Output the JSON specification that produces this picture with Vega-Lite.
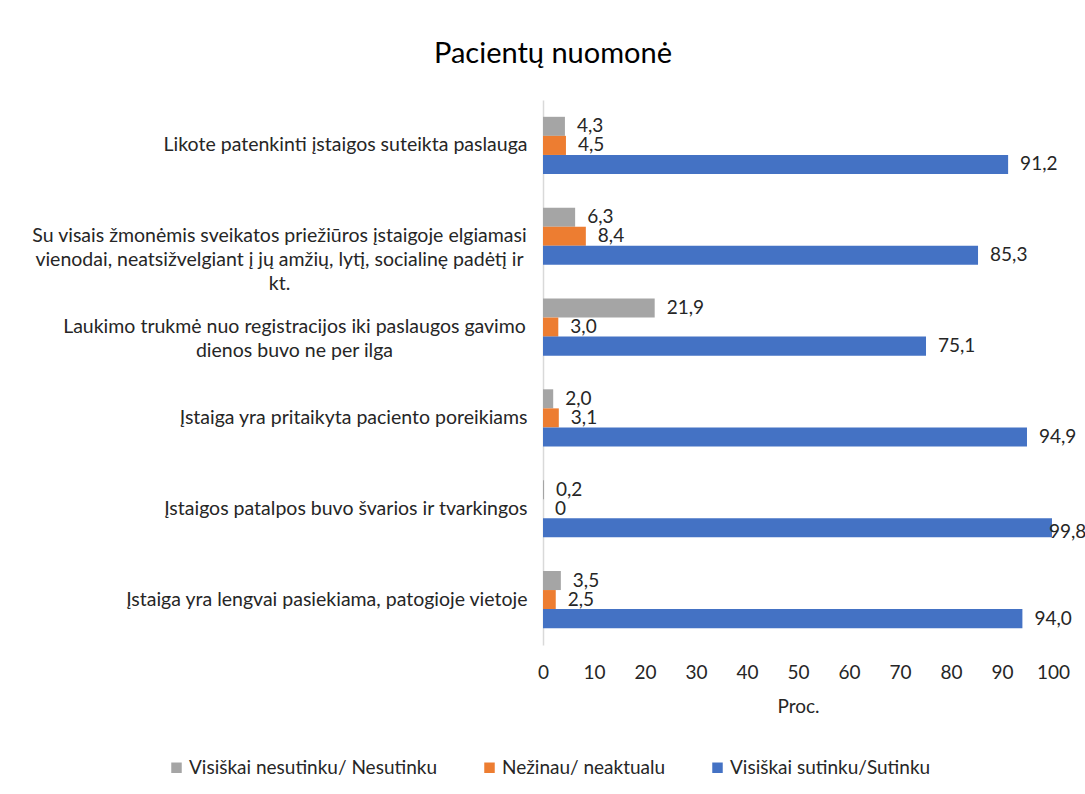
{
  "$schema": "https://vega.github.io/schema/vega-lite/v6.json",
  "width": 510,
  "height": 545,
  "autosize": "none",
  "padding": {"left": 543, "top": 100, "right": 32, "bottom": 149},
  "background": "white",
  "title": {"text": "Pacientų nuomonė", "fontSize": 29, "font": "Lato", "fontWeight": "normal", "color": "#000000", "anchor": "middle", "dx": -245, "offset": 31},
  "data": {"values": [
    {"cat": "Likote patenkinti įstaigos suteikta paslauga", "series": "Visiškai nesutinku/ Nesutinku", "v": 4.3},
    {"cat": "Likote patenkinti įstaigos suteikta paslauga", "series": "Nežinau/ neaktualu", "v": 4.5},
    {"cat": "Likote patenkinti įstaigos suteikta paslauga", "series": "Visiškai sutinku/Sutinku", "v": 91.2},
    {"cat": "Su visais žmonėmis sveikatos priežiūros įstaigoje elgiamasi|vienodai, neatsižvelgiant į jų amžių, lytį, socialinę padėtį ir|kt.", "series": "Visiškai nesutinku/ Nesutinku", "v": 6.3},
    {"cat": "Su visais žmonėmis sveikatos priežiūros įstaigoje elgiamasi|vienodai, neatsižvelgiant į jų amžių, lytį, socialinę padėtį ir|kt.", "series": "Nežinau/ neaktualu", "v": 8.4},
    {"cat": "Su visais žmonėmis sveikatos priežiūros įstaigoje elgiamasi|vienodai, neatsižvelgiant į jų amžių, lytį, socialinę padėtį ir|kt.", "series": "Visiškai sutinku/Sutinku", "v": 85.3},
    {"cat": "Laukimo trukmė nuo registracijos iki paslaugos gavimo|dienos  buvo ne per ilga", "series": "Visiškai nesutinku/ Nesutinku", "v": 21.9},
    {"cat": "Laukimo trukmė nuo registracijos iki paslaugos gavimo|dienos  buvo ne per ilga", "series": "Nežinau/ neaktualu", "v": 3.0},
    {"cat": "Laukimo trukmė nuo registracijos iki paslaugos gavimo|dienos  buvo ne per ilga", "series": "Visiškai sutinku/Sutinku", "v": 75.1},
    {"cat": "Įstaiga yra pritaikyta paciento poreikiams", "series": "Visiškai nesutinku/ Nesutinku", "v": 2.0},
    {"cat": "Įstaiga yra pritaikyta paciento poreikiams", "series": "Nežinau/ neaktualu", "v": 3.1},
    {"cat": "Įstaiga yra pritaikyta paciento poreikiams", "series": "Visiškai sutinku/Sutinku", "v": 94.9},
    {"cat": "Įstaigos patalpos buvo švarios ir tvarkingos", "series": "Visiškai nesutinku/ Nesutinku", "v": 0.2},
    {"cat": "Įstaigos patalpos buvo švarios ir tvarkingos", "series": "Nežinau/ neaktualu", "v": 0},
    {"cat": "Įstaigos patalpos buvo švarios ir tvarkingos", "series": "Visiškai sutinku/Sutinku", "v": 99.8},
    {"cat": "Įstaiga yra lengvai pasiekiama, patogioje vietoje", "series": "Visiškai nesutinku/ Nesutinku", "v": 3.5},
    {"cat": "Įstaiga yra lengvai pasiekiama, patogioje vietoje", "series": "Nežinau/ neaktualu", "v": 2.5},
    {"cat": "Įstaiga yra lengvai pasiekiama, patogioje vietoje", "series": "Visiškai sutinku/Sutinku", "v": 94.0}
  ]},
  "encoding": {
    "y": {
      "field": "cat", "type": "nominal", "sort": null,
      "scale": {"paddingInner": 0.37, "paddingOuter": 0.185},
      "axis": {
        "title": null, "domainColor": "#D9D9D9", "domainWidth": 1.5, "ticks": false,
        "labelFontSize": 19.5, "labelFont": "Lato", "labelColor": "#262626",
        "labelAlign": {"condition": {"test": "indexof(datum.value, '|') >= 0", "value": "center"}, "value": "right"},
        "labelPadding": {"condition": [
          {"test": "indexof(datum.value, 'Su visais') === 0", "value": 264},
          {"test": "indexof(datum.value, 'Laukimo') === 0", "value": 249}
        ], "value": 16},
        "labelLimit": 0, "labelLineHeight": 24,
        "labelExpr": "split(datum.label, '|')"
      }
    },
    "yOffset": {
      "field": "series", "type": "nominal",
      "sort": ["Visiškai nesutinku/ Nesutinku", "Nežinau/ neaktualu", "Visiškai sutinku/Sutinku"],
      "scale": {"paddingInner": 0, "paddingOuter": 0}
    },
    "x": {
      "field": "v", "type": "quantitative",
      "scale": {"domain": [0, 100], "nice": false},
      "axis": {
        "title": "Proc.", "titleFontSize": 19, "titleFont": "Lato", "titleFontWeight": "normal", "titleColor": "#262626", "titlePadding": 15,
        "domain": false, "ticks": false, "grid": false, "labelFlush": false,
        "values": [0, 10, 20, 30, 40, 50, 60, 70, 80, 90, 100],
        "labelFontSize": 19, "labelFont": "Lato", "labelColor": "#262626", "labelPadding": 18
      }
    }
  },
  "layer": [
    {
      "mark": {"type": "bar"},
      "encoding": {
        "color": {
          "field": "series", "type": "nominal",
          "scale": {
            "domain": ["Visiškai nesutinku/ Nesutinku", "Nežinau/ neaktualu", "Visiškai sutinku/Sutinku"],
            "range": ["#A5A5A5", "#ED7D31", "#4472C4"]
          },
          "legend": {
            "title": null, "orient": "none", "direction": "horizontal",
            "legendX": -376, "legendY": 658,
            "symbolType": "square", "symbolSize": 110, "symbolStrokeWidth": 0,
            "labelFontSize": 19, "labelFont": "Lato", "labelColor": "#262626", "labelLimit": 0,
            "columnPadding": 42, "labelOffset": 3
          }
        }
      }
    },
    {
      "transform": [{"filter": "datum.v < 99"}],
      "mark": {"type": "text", "align": "left", "baseline": "middle", "dx": 12, "fontSize": 19, "font": "Lato", "color": "#262626"},
      "encoding": {
        "text": {"condition": {"test": "datum.v === 0", "value": "0"}, "field": "v", "type": "quantitative", "format": ".1f"}
      }
    },
    {
      "transform": [{"filter": "datum.v >= 99"}],
      "mark": {"type": "text", "align": "left", "baseline": "middle", "dx": -3, "dy": 4, "fontSize": 19, "font": "Lato", "color": "#262626"},
      "encoding": {
        "text": {"field": "v", "type": "quantitative", "format": ".1f"}
      }
    }
  ],
  "config": {
    "locale": {"number": {"decimal": ",", "thousands": " ", "grouping": [3], "currency": ["", " €"]}},
    "view": {"stroke": null}
  }
}
